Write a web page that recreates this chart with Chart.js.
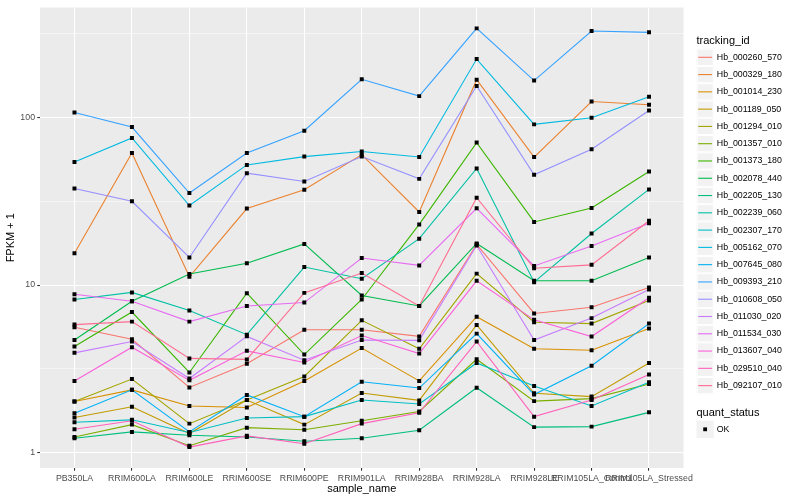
<!DOCTYPE html>
<html>
<head>
<meta charset="utf-8">
<script src="https://cdn.jsdelivr.net/npm/chart.js@4.4.1/dist/chart.umd.min.js"></script>
<style>
html,body{margin:0;padding:0;background:#fff}
#wrap{width:800px;height:500px}
</style>
</head>
<body>
<div id="wrap"><canvas id="myChart" width="800" height="500"></canvas></div>
<script>
// categories (x axis)
const samples = ["PB350LA","RRIM600LA","RRIM600LE","RRIM600SE","RRIM600PE","RRIM901LA",
  "RRIM928BA","RRIM928LA","RRIM928LE","RRIM105LA_Control","RRIM105LA_Stressed"]

const trackingIds = ["Hb_000260_570","Hb_000329_180","Hb_001014_230","Hb_001189_050","Hb_001294_010",
  "Hb_001357_010","Hb_001373_180","Hb_002078_440","Hb_002205_130","Hb_002239_060","Hb_002307_170",
  "Hb_005162_070","Hb_007645_080","Hb_009393_210","Hb_010608_050","Hb_011030_020","Hb_011534_030",
  "Hb_013607_040","Hb_029510_040","Hb_092107_010"]

const quantStatus = ["OK"]

// FPKM + 1, one array per gene, same order as samples
const hb_000260_570 = [5.6, 4.75, 2.45, 3.39, 5.41, 5.41, 4.94, 17.5, 6.77, 7.37, 9.66]
const hb_000329_180 = [15.5, 61.4, 11.2, 28.6, 37, 60, 27.3, 168, 58, 124.5, 119]
const hb_001014_230 = [2.02, 2.37, 1.90, 1.86, 2.68, 4.21, 2.68, 6.47, 4.17, 4.08, 5.5]
const hb_001189_050 = [1.62, 1.88, 1.30, 2.06, 1.47, 2.27, 2.05, 5.78, 2.26, 2.16, 3.43]
const hb_001294_010 = [2.02, 2.75, 1.49, 2.06, 2.85, 6.16, 4.17, 11.7, 6.0, 5.89, 8.09]
const hb_001357_010 = [1.24, 1.47, 1.10, 1.41, 1.37, 1.55, 1.76, 3.61, 2.03, 2.10, 2.57]
const hb_001373_180 = [4.3, 6.9, 3.01, 8.94, 3.85, 8.2, 23, 70.8, 23.8, 28.8, 47.6]
const hb_002078_440 = [4.7, 8.0, 11.65, 13.5, 17.6, 8.67, 7.5, 17.7, 10.6, 10.6, 14.6]
const hb_002205_130 = [1.22, 1.33, 1.27, 1.24, 1.17, 1.22, 1.36, 2.44, 1.42, 1.43, 1.74]
const hb_002239_060 = [8.2, 9.04, 7.06, 5.06, 12.8, 10.9, 18.9, 49.6, 10.4, 20.3, 37.2]
const hb_002307_170 = [1.52, 1.57, 1.32, 1.61, 1.64, 2.06, 1.95, 3.43, 2.50, 1.90, 2.63]
const hb_005162_070 = [54.3, 75.4, 29.8, 52.1, 58.4, 62.6, 58.1, 223, 90.9, 99.6, 133]
const hb_007645_080 = [1.72, 2.37, 1.33, 2.21, 1.64, 2.65, 2.43, 5.13, 2.22, 3.30, 5.89]
const hb_009393_210 = [107, 87.6, 35.4, 61.4, 83.4, 168.8, 134, 340, 166, 328, 322]
const hb_010608_050 = [37.7, 31.6, 14.6, 46.5, 41.5, 58.4, 43, 154, 45.5, 64.6, 110]
const hb_011030_020 = [3.94, 4.6, 2.77, 4.94, 3.56, 4.7, 4.68, 17.2, 4.7, 6.35, 9.4]
const hb_011534_030 = [8.82, 8.0, 6.05, 7.5, 7.86, 14.5, 13.1, 28.7, 13.0, 17.1, 23.4]
const hb_013607_040 = [2.68, 4.26, 2.7, 4.05, 3.45, 5.0, 3.90, 10.6, 6.2, 4.93, 8.4]
const hb_029510_040 = [1.38, 1.55, 1.08, 1.26, 1.13, 1.49, 1.73, 4.6, 1.64, 2.06, 2.93]
const hb_092107_010 = [5.81, 6.05, 3.65, 3.6, 8.98, 11.8, 7.5, 33.2, 12.6, 13.2, 24.2]

const fpkm = [hb_000260_570, hb_000329_180, hb_001014_230, hb_001189_050, hb_001294_010,
  hb_001357_010, hb_001373_180, hb_002078_440, hb_002205_130, hb_002239_060, hb_002307_170,
  hb_005162_070, hb_007645_080, hb_009393_210, hb_010608_050, hb_011030_020, hb_011534_030,
  hb_013607_040, hb_029510_040, hb_092107_010]

// y tick labels
const yMajor = [1, 10, 100]

// ggplot hue palette, 20 levels
const palette = ["#F8766D","#EA8331","#D89000","#C09B00","#A3A500","#7CAE00","#39B600","#00BB4E",
  "#00BF7D","#00C1A3","#00BFC4","#00BAE0","#00B0F6","#35A2FF","#9590FF","#C77CFF","#E76BF3",
  "#FA62DB","#FF62BC","#FF6C91"]

const FONT = "'Liberation Sans', Arial, Helvetica, sans-serif"
const yGrid = [1, Math.sqrt(10), 10, Math.sqrt(1000), 100, Math.sqrt(100000)]
const isMajor = v => yMajor.some(m => Math.abs(m - v) < 1e-9)

const datasets = trackingIds.map((id, k) => ({
  label: id,
  data: fpkm[k].map((v, i) => ({x: i, y: v})),
  borderColor: palette[k],
  backgroundColor: palette[k],
  borderWidth: 1.1,
  pointRadius: 0,
  tension: 0,
  fill: false,
  order: 100 - k   // later genes on top, like ggplot
}))
// points layer (quant_status OK) on top of all lines
datasets.push({
  label: quantStatus[0],
  type: 'scatter',
  data: fpkm.flatMap(row => row.map((v, i) => ({x: i, y: v}))),
  showLine: false,
  pointStyle: 'rect',
  pointRadius: 2.8,
  backgroundColor: '#000000',
  borderColor: '#000000',
  borderWidth: 0,
  order: 0
})

// grey panel like theme_grey
const panelBg = {
  id: 'panelBg',
  beforeDraw(chart) {
    const {ctx, chartArea: a} = chart
    ctx.save()
    ctx.fillStyle = '#FFFFFF'
    ctx.fillRect(0, 0, chart.width, chart.height)
    ctx.fillStyle = '#EBEBEB'
    ctx.fillRect(a.left, a.top, a.right - a.left, a.bottom - a.top)
    ctx.restore()
  }
}

// ggplot style legends on the right
const ggLegend = {
  id: 'ggLegend',
  afterDraw(chart) {
    const c = chart.ctx
    const x0 = 696.5, key = 17.28
    c.save()
    c.textAlign = 'left'
    c.textBaseline = 'middle'
    c.fillStyle = '#000'
    c.font = '11px ' + FONT
    c.fillText('tracking_id', x0, 41)
    trackingIds.forEach((id, k) => {
      const cy = 57.3 + key * k
      c.fillStyle = '#F2F2F2'
      c.fillRect(x0, cy - key / 2, key, key)
      c.strokeStyle = '#FFFFFF'
      c.lineWidth = 1
      c.strokeRect(x0 + 0.5, cy - key / 2 + 0.5, key - 1, key - 1)
      c.strokeStyle = palette[k]
      c.lineWidth = 1.1
      c.beginPath()
      c.moveTo(x0 + 1.7, cy)
      c.lineTo(x0 + key - 1.7, cy)
      c.stroke()
      c.fillStyle = '#000'
      c.font = '8.8px ' + FONT
      c.fillText(id, x0 + key + 3, cy)
    })
    c.font = '11px ' + FONT
    c.fillText('quant_status', x0, 412.5)
    const cy = 429.3
    c.fillStyle = '#F2F2F2'
    c.fillRect(x0, cy - key / 2, key, key)
    c.fillStyle = '#000'
    c.fillRect(x0 + key / 2 - 1.9, cy - 1.9, 3.8, 3.8)
    c.font = '8.8px ' + FONT
    c.fillText(quantStatus[0], x0 + key + 3, cy)
    c.restore()
  }
}

const ctx = document.getElementById('myChart').getContext('2d')

const config = {
  type: 'line',
  data: {datasets: datasets},
  options: {
    responsive: false,
    animation: false,
    devicePixelRatio: 1,
    layout: {padding: {left: 0, top: 5.5, right: 116.5, bottom: 0}},
    plugins: {legend: {display: false}, tooltip: {enabled: false}},
    scales: {
      x: {
        type: 'linear',
        min: -0.6,
        max: 10.6,
        afterBuildTicks: s => { s.ticks = samples.map((_, i) => ({value: i})) },
        afterFit: s => { s.height = 32 },
        ticks: {
          autoSkip: false, maxRotation: 0, minRotation: 0, padding: 2.2,
          color: '#4D4D4D', font: {family: FONT, size: 8.8},
          callback: v => samples[v]
        },
        grid: {color: '#FFFFFF', lineWidth: 1.07, tickColor: '#333333', tickLength: 2.75, tickWidth: 1.07},
        border: {display: false},
        title: {display: true, text: 'sample_name', color: '#000', font: {family: FONT, size: 11}, padding: {top: 2, bottom: 4}}
      },
      y: {
        type: 'logarithmic',
        min: 0.81,
        max: 453,
        bounds: 'data',
        afterBuildTicks: s => { s.ticks = yGrid.map(v => ({value: v, major: isMajor(v)})) },
        afterFit: s => { s.width = 40 },
        ticks: {
          autoSkip: false, padding: 2.2, color: '#4D4D4D', font: {family: FONT, size: 8.8},
          callback: v => isMajor(v) ? String(v) : ''
        },
        grid: {
          color: '#FFFFFF',
          lineWidth: c => (c.tick && isMajor(c.tick.value)) ? 1.07 : 0.53,
          tickColor: c => (c.tick && isMajor(c.tick.value)) ? '#333333' : 'rgba(0,0,0,0)',
          tickLength: 2.75,
          tickWidth: 1.07
        },
        border: {display: false},
        title: {display: true, text: 'FPKM + 1', color: '#000', font: {family: FONT, size: 11}, padding: {top: 4, bottom: 2}}
      }
    }
  },
  plugins: [panelBg, ggLegend]
}

const myChart = new Chart(ctx, config)
</script>
</body>
</html>
